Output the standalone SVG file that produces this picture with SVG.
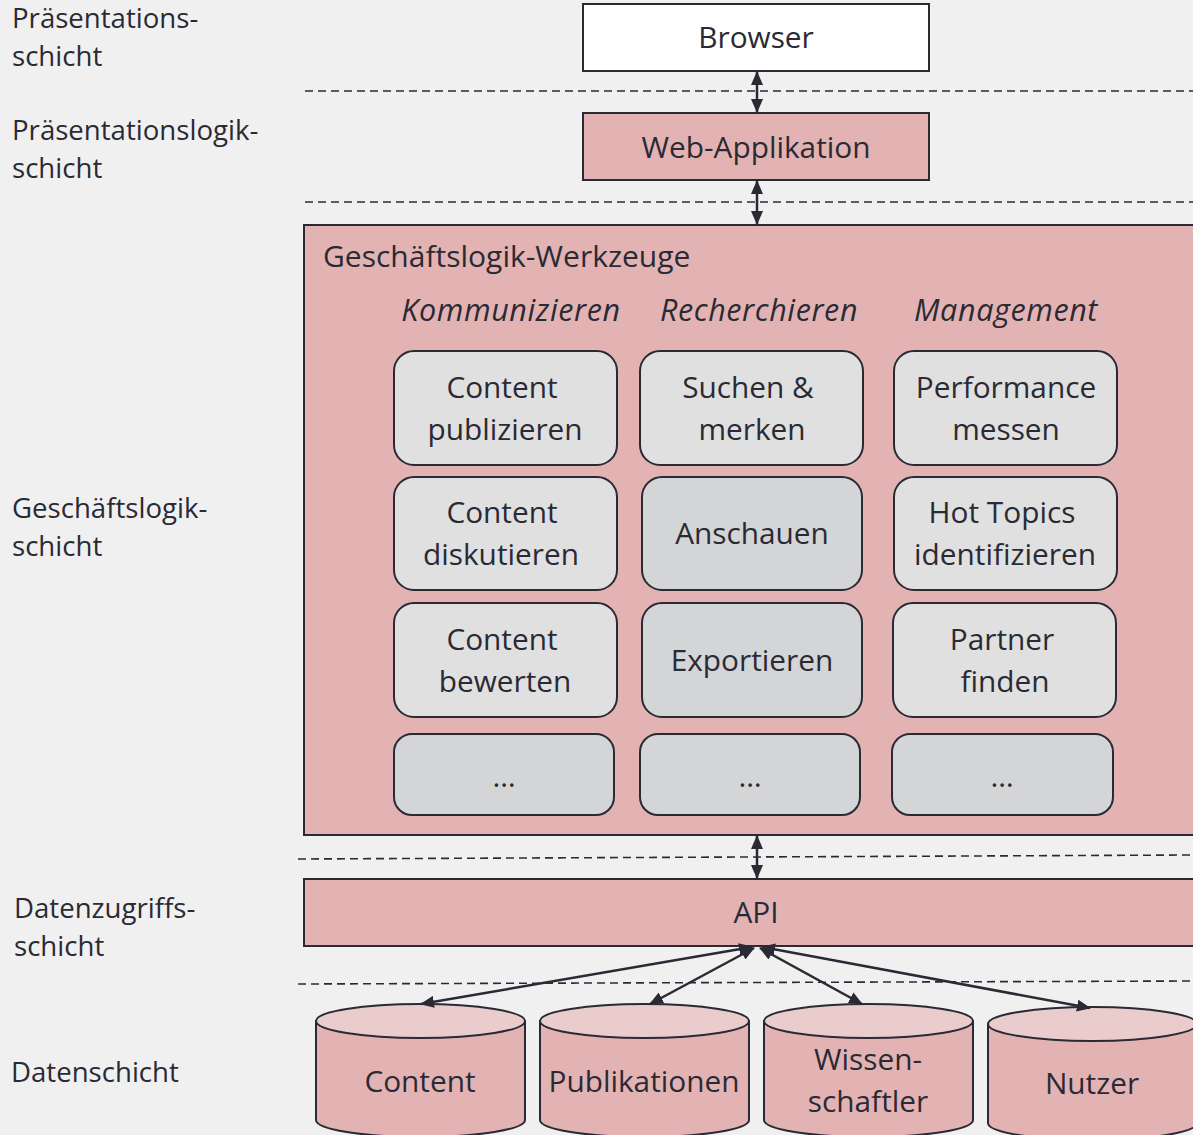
<svg xmlns="http://www.w3.org/2000/svg" width="1193" height="1135" viewBox="0 0 1193 1135">
<defs>
<marker id="ah" viewBox="0 0 14 12" refX="13" refY="6" markerWidth="14" markerHeight="12" markerUnits="userSpaceOnUse" orient="auto-start-reverse">
<path d="M0,0 L14,6 L0,12 Z" fill="#2a2a35"/>
</marker>
</defs>
<style>
text{font-family:"Open Sans","Noto Sans","DejaVu Sans",sans-serif;fill:#2a2a35}
.lbl{font-size:27.6px}
.bt{font-size:29.8px;text-anchor:middle}
.hd{font-size:30.5px;font-style:italic;text-anchor:middle;letter-spacing:0.6px}
.box{stroke:#2a2a35;stroke-width:2}
.pink{fill:#e3b3b3}
.lt{fill:#e0e0e0}
.dk{fill:#d4d5d7}
.dash{stroke:#2a2a35;stroke-width:1.6;stroke-dasharray:8 5;fill:none}
.con{stroke:#2a2a35;stroke-width:2.5;fill:none;marker-start:url(#ah);marker-end:url(#ah)}
.ctop{fill:#ebcccd}
</style>
<rect width="1193" height="1135" fill="#f0f0f0"/>
<g id="labels">
<text class="lbl" x="12" y="28">Präsentations-</text>
<text class="lbl" x="12" y="66">schicht</text>
<text class="lbl" x="12" y="140">Präsentationslogik-</text>
<text class="lbl" x="12" y="178">schicht</text>
<text class="lbl" x="12" y="518">Geschäftslogik-</text>
<text class="lbl" x="12" y="556">schicht</text>
<text class="lbl" x="14" y="918">Datenzugriffs-</text>
<text class="lbl" x="14" y="956">schicht</text>
<text class="lbl" x="11" y="1082">Datenschicht</text>
</g>
<g id="separators">
<line class="dash" x1="305" y1="91" x2="1193" y2="91"/>
<line class="dash" x1="305" y1="202" x2="1193" y2="202"/>
<line class="dash" x1="298" y1="859" x2="1193" y2="855"/>
<line class="dash" x1="298" y1="984" x2="1193" y2="981"/>
</g>
<g id="browser">
<rect class="box" x="583" y="4" width="346" height="67" fill="#ffffff"/>
<text class="bt" x="756" y="48">Browser</text>
</g>
<g id="webapp">
<rect class="box pink" x="583" y="113" width="346" height="67"/>
<text class="bt" x="756" y="158">Web-Applikation</text>
</g>
<g id="werkzeuge">
<rect class="box pink" x="304" y="225" width="900" height="610"/>
<text style="font-size:30px" x="323" y="267">Geschäftslogik-Werkzeuge</text>
<text class="hd" x="511" y="321">Kommunizieren</text>
<text class="hd" x="759" y="321">Recherchieren</text>
<text class="hd" x="1006" y="321">Management</text>
</g>
<g id="content-publizieren">
<rect class="box lt" x="394" y="351" width="223" height="114" rx="20"/>
<text class="bt" x="502" y="398">Content</text>
<text class="bt" x="505" y="440">publizieren</text>
</g>
<g id="suchen-merken">
<rect class="box lt" x="640" y="351" width="223" height="114" rx="20"/>
<text class="bt" x="748" y="398">Suchen &amp;</text>
<text class="bt" x="752" y="440">merken</text>
</g>
<g id="performance-messen">
<rect class="box lt" x="894" y="351" width="223" height="114" rx="20"/>
<text class="bt" x="1006" y="398">Performance</text>
<text class="bt" x="1006" y="440">messen</text>
</g>
<g id="content-diskutieren">
<rect class="box lt" x="394" y="477" width="223" height="113" rx="20"/>
<text class="bt" x="502" y="523">Content</text>
<text class="bt" x="501" y="565">diskutieren</text>
</g>
<g id="anschauen">
<rect class="box dk" x="642" y="477" width="220" height="113" rx="20"/>
<text class="bt" x="752" y="544">Anschauen</text>
</g>
<g id="hot-topics">
<rect class="box lt" x="894" y="477" width="223" height="113" rx="20"/>
<text class="bt" x="1002" y="523">Hot Topics</text>
<text class="bt" x="1005" y="565">identifizieren</text>
</g>
<g id="content-bewerten">
<rect class="box lt" x="394" y="603" width="223" height="114" rx="20"/>
<text class="bt" x="502" y="650">Content</text>
<text class="bt" x="505" y="692">bewerten</text>
</g>
<g id="exportieren">
<rect class="box dk" x="642" y="603" width="220" height="114" rx="20"/>
<text class="bt" x="752" y="671">Exportieren</text>
</g>
<g id="partner-finden">
<rect class="box lt" x="893" y="603" width="223" height="114" rx="20"/>
<text class="bt" x="1002" y="650">Partner</text>
<text class="bt" x="1005" y="692">finden</text>
</g>
<g id="more-1">
<rect class="box dk" x="394" y="734" width="220" height="81" rx="18"/>
<text class="bt" x="504" y="787">…</text>
</g>
<g id="more-2">
<rect class="box dk" x="640" y="734" width="220" height="81" rx="18"/>
<text class="bt" x="750" y="787">…</text>
</g>
<g id="more-3">
<rect class="box dk" x="892" y="734" width="221" height="81" rx="18"/>
<text class="bt" x="1002" y="787">…</text>
</g>
<g id="api">
<rect class="box pink" x="304" y="879" width="900" height="67"/>
<text class="bt" x="756" y="923">API</text>
</g>
<g id="db-content">
<path class="box pink" d="M316,1021 L316,1120 A104.5,17 0 0 0 525,1120 L525,1021 Z"/>
<ellipse class="box ctop" cx="420.5" cy="1021" rx="104.5" ry="17"/>
<text class="bt" x="420" y="1092">Content</text>
</g>
<g id="db-publikationen">
<path class="box pink" d="M540,1021 L540,1120 A104.5,17 0 0 0 749,1120 L749,1021 Z"/>
<ellipse class="box ctop" cx="644.5" cy="1021" rx="104.5" ry="17"/>
<text class="bt" x="644" y="1092">Publikationen</text>
</g>
<g id="db-wissenschaftler">
<path class="box pink" d="M764,1021 L764,1120 A104.5,17 0 0 0 973,1120 L973,1021 Z"/>
<ellipse class="box ctop" cx="868.5" cy="1021" rx="104.5" ry="17"/>
<text class="bt" x="868" y="1070">Wissen-</text>
<text class="bt" x="868" y="1112">schaftler</text>
</g>
<g id="db-nutzer">
<path class="box pink" d="M988,1024 L988,1123 A104.5,17 0 0 0 1197,1123 L1197,1024 Z"/>
<ellipse class="box ctop" cx="1092.5" cy="1024" rx="104.5" ry="17"/>
<text class="bt" x="1092" y="1094">Nutzer</text>
</g>
<g id="connectors">
<line class="con" x1="757" y1="72" x2="757" y2="112"/>
<line class="con" x1="757" y1="181" x2="757" y2="224"/>
<line class="con" x1="757" y1="836" x2="757" y2="878"/>
<line class="con" x1="752" y1="947" x2="421" y2="1004"/>
<line class="con" x1="754" y1="948" x2="650" y2="1004"/>
<line class="con" x1="760" y1="948" x2="862" y2="1004"/>
<line class="con" x1="762" y1="947" x2="1090" y2="1008"/>
</g>
</svg>
